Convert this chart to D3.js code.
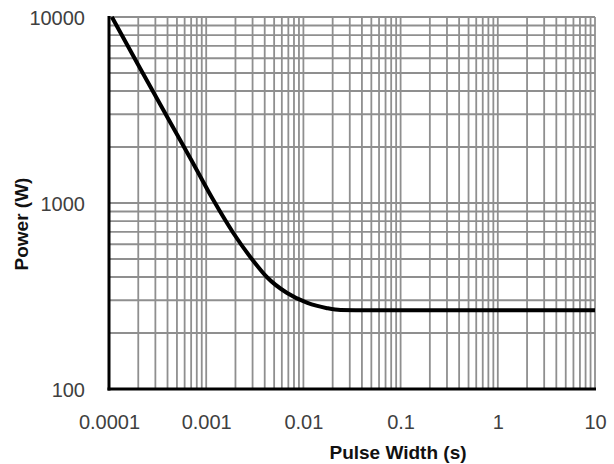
<!DOCTYPE html>
<html>
<head>
<meta charset="utf-8">
<script src="https://cdn.jsdelivr.net/npm/d3@7"></script>
<style>
  body { margin: 0; background: #fff; }
  svg { display: block; font-family: "Liberation Sans", Arial, sans-serif; }
</style>
</head>
<body>
<div id="chart"></div>
<script>
// pulse width (s) vs power (W)
var pulseWidth = [0.000107, 0.0002, 0.0004, 0.0007, 0.00118, 0.0019, 0.003, 0.0042, 0.0068, 0.011, 0.0175, 0.024, 0.05, 0.2, 1, 10];
var power      = [10000, 5520, 2880, 1710, 1040, 690, 494, 400, 328, 290, 272, 266, 265, 265, 265, 265];

var xTickValues = [0.0001, 0.001, 0.01, 0.1, 1, 10];
var xTickLabels = ["0.0001", "0.001", "0.01", "0.1", "1", "10"];
var yTickValues = [100, 1000, 10000];
var yTickLabels = ["100", "1000", "10000"];

var width = 614, height = 464;
var margin = {top: 17, right: 19, bottom: 75, left: 109};

var x = d3.scaleLog().domain([0.0001, 10]).range([margin.left, width - margin.right]);
var y = d3.scaleLog().domain([100, 10000]).range([height - margin.bottom, margin.top]);

var svg = d3.select("#chart").append("svg")
    .attr("width", width)
    .attr("height", height);

// minor + major grid lines (1..9 per decade)
var xGrid = x.ticks(), yGrid = y.ticks();

svg.append("g").attr("class", "grid x")
  .selectAll("line").data(xGrid).enter()
  .append("line")
    .attr("x1", function(d) { return x(d); })
    .attr("x2", function(d) { return x(d); })
    .attr("y1", y.range()[0])
    .attr("y2", y.range()[1])
    .attr("stroke", "#8f8f8f")
    .attr("stroke-width", 1.8);

svg.append("g").attr("class", "grid y")
  .selectAll("line").data(yGrid).enter()
  .append("line")
    .attr("x1", x.range()[0])
    .attr("x2", x.range()[1])
    .attr("y1", function(d) { return y(d); })
    .attr("y2", function(d) { return y(d); })
    .attr("stroke", "#8f8f8f")
    .attr("stroke-width", 1.8);

// axes (left and bottom drawn heavy)
var xAxis = d3.axisBottom(x).tickValues(xTickValues).tickSize(0).tickPadding(26)
    .tickFormat(function(d, i) { return xTickLabels[i]; });
var yAxis = d3.axisLeft(y).tickValues(yTickValues).tickSize(0).tickPadding(24)
    .tickFormat(function(d, i) { return yTickLabels[i]; });

var gx = svg.append("g")
    .attr("transform", "translate(0," + y.range()[0] + ")")
    .call(xAxis);
var gy = svg.append("g")
    .attr("transform", "translate(" + x.range()[0] + ",0)")
    .call(yAxis);

[gx, gy].forEach(function(g) {
  g.select(".domain").remove();
  g.selectAll("text")
    .attr("fill", "#404040")
    .style("font-size", "20px");
});
gy.selectAll("text").attr("dy", "0.36em");

svg.append("line")
    .attr("x1", x.range()[0]).attr("x2", x.range()[0])
    .attr("y1", y.range()[1] - 1).attr("y2", y.range()[0] + 1.5)
    .attr("stroke", "#000").attr("stroke-width", 3);
svg.append("line")
    .attr("x1", x.range()[0] - 1.5).attr("x2", x.range()[1] + 1)
    .attr("y1", y.range()[0]).attr("y2", y.range()[0])
    .attr("stroke", "#000").attr("stroke-width", 3);

// curve
var data = pulseWidth.map(function(d, i) { return {t: d, p: power[i]}; });
var line = d3.line()
    .x(function(d) { return x(d.t); })
    .y(function(d) { return y(d.p); })
    .curve(d3.curveMonotoneX);

svg.append("path")
    .datum(data)
    .attr("d", line)
    .attr("fill", "none")
    .attr("stroke", "#000")
    .attr("stroke-width", 4)
    .attr("stroke-linejoin", "round");

// titles
svg.append("text")
    .attr("x", 398)
    .attr("y", 459)
    .attr("text-anchor", "middle")
    .style("font-size", "19px")
    .style("font-weight", "bold")
    .attr("fill", "#111")
    .text("Pulse Width (s)");

svg.append("text")
    .attr("transform", "translate(28,224) rotate(-90)")
    .attr("text-anchor", "middle")
    .style("font-size", "19px")
    .style("font-weight", "bold")
    .attr("fill", "#111")
    .text("Power (W)");
</script>
</body>
</html>
